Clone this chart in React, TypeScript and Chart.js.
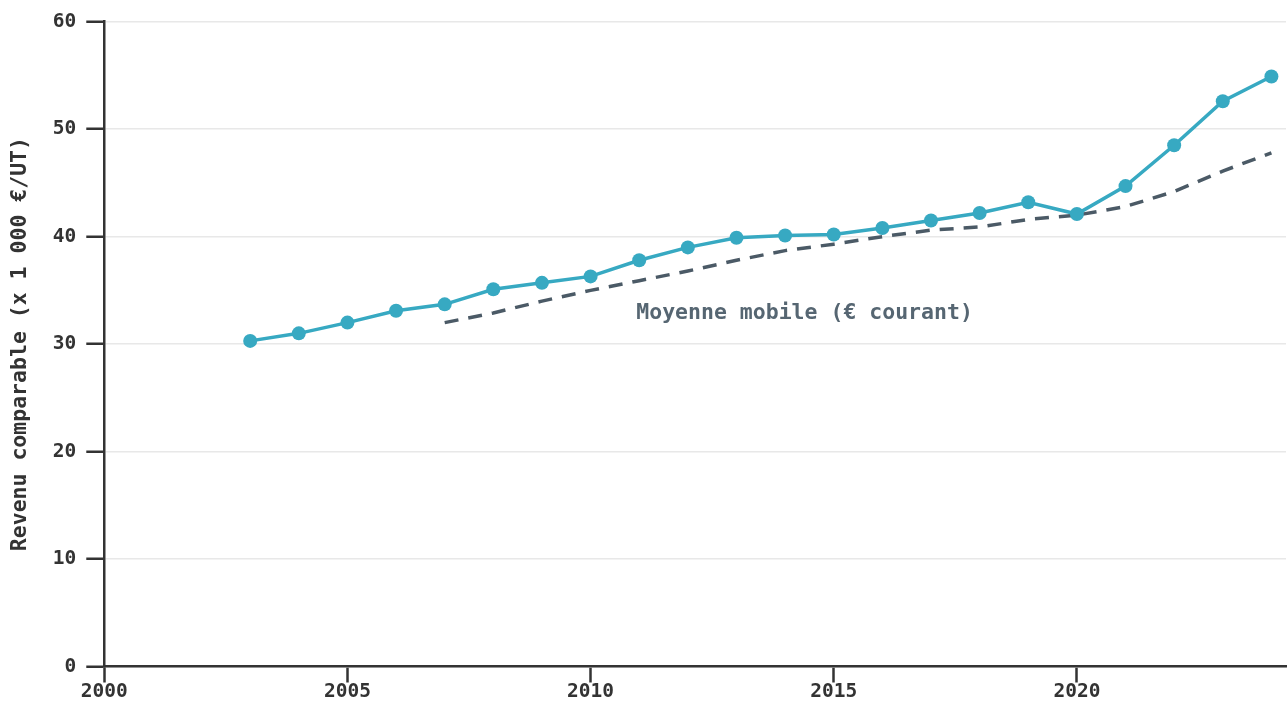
import React, { useEffect, useRef } from "react";
import { Chart, registerables } from "chart.js";

Chart.register(...registerables);

const years = [2003, 2004, 2005, 2006, 2007, 2008, 2009, 2010, 2011, 2012, 2013, 2014, 2015, 2016, 2017, 2018, 2019, 2020, 2021, 2022, 2023, 2024];
const revenu = [30.3, 31.0, 32.0, 33.1, 33.7, 35.1, 35.7, 36.3, 37.8, 39.0, 39.9, 40.1, 40.2, 40.8, 41.5, 42.2, 43.2, 42.1, 44.7, 48.5, 52.6, 54.9];
const mmYears = [2007, 2008, 2009, 2010, 2011, 2012, 2013, 2014, 2015, 2016, 2017, 2018, 2019, 2020, 2021, 2022, 2023, 2024];
const moyenneMobile = [32.0, 32.9, 34.0, 35.0, 35.9, 36.8, 37.8, 38.7, 39.3, 40.0, 40.6, 40.9, 41.6, 42.0, 42.8, 44.2, 46.1, 47.8];
const annotationText = "Moyenne mobile (€ courant)";
const annotationPos = { x: 2014.4, y: 32.9 };
const yTitle = "Revenu comparable (x 1 000 €/UT)";

const FONT = "'DejaVu Sans Mono', monospace";

export default function App() {
  const ref = useRef<HTMLCanvasElement | null>(null);
  useEffect(() => {
    document.body.style.margin = "0";
    const annot = {
      id: "annot",
      afterDatasetsDraw(chart: any) {
        const { ctx, scales } = chart;
        const x = scales.x.getPixelForValue(annotationPos.x);
        const y = scales.y.getPixelForValue(annotationPos.y);
        ctx.save();
        ctx.font = `bold 21.5px ${FONT}`;
        ctx.fillStyle = "#566672";
        ctx.textAlign = "center";
        ctx.textBaseline = "middle";
        ctx.fillText(annotationText, x, y);
        ctx.restore();
      },
    };
    const chart = new Chart(ref.current!, {
      type: "line",
      data: {
        datasets: [
          {
            data: years.map((y, i) => ({ x: y, y: revenu[i] })),
            borderColor: "#37a9c2",
            backgroundColor: "#37a9c2",
            borderWidth: 3.5,
            pointRadius: 7,
            pointBorderWidth: 0,
            tension: 0,
          },
          {
            data: mmYears.map((y, i) => ({ x: y, y: moyenneMobile[i] })),
            borderColor: "#4b5a66",
            borderWidth: 3.5,
            borderDash: [14, 10],
            pointRadius: 0,
            tension: 0,
          },
        ],
      },
      options: {
        animation: false,
        responsive: true,
        maintainAspectRatio: false,
        layout: { padding: { top: 10, right: 2, left: 8, bottom: 2 } },
        plugins: { legend: { display: false }, tooltip: { enabled: false } },
        scales: {
          x: {
            type: "linear",
            min: 2000,
            max: 2024.3,
            afterBuildTicks: (s: any) => {
              s.ticks = s.ticks.filter((t: any) => t.value % 5 === 0);
            },
            ticks: { stepSize: 5, color: "#333", font: { family: FONT, size: 19.5, weight: "bold", lineHeight: 1.0 }, padding: 0, callback: (v: any) => String(v) },
            grid: { drawOnChartArea: false, drawTicks: true, tickLength: 16, tickColor: "#333", tickWidth: 2.5 },
            border: { color: "#333", width: 2.5 },
          },
          y: {
            min: 0,
            max: 60,
            ticks: { stepSize: 10, color: "#333", font: { family: FONT, size: 19.5, weight: "bold" }, padding: 10 },
            grid: { color: "#e8e8e8", lineWidth: 1.5, tickLength: 18, tickColor: "#333", tickWidth: 2.5 },
            border: { color: "#333", width: 2.5 },
            title: { display: true, text: yTitle, color: "#333", font: { family: FONT, size: 21.5, weight: "bold" }, padding: { top: 0, bottom: 9 } },
          },
        },
      },
      plugins: [annot],
    });
    return () => chart.destroy();
  }, []);
  return (
    <div style={{ width: 1287, height: 704, overflow: "hidden" }}>
      <div style={{ width: 1293, height: 704, position: "relative" }}>
        <canvas ref={ref} />
      </div>
    </div>
  );
}
